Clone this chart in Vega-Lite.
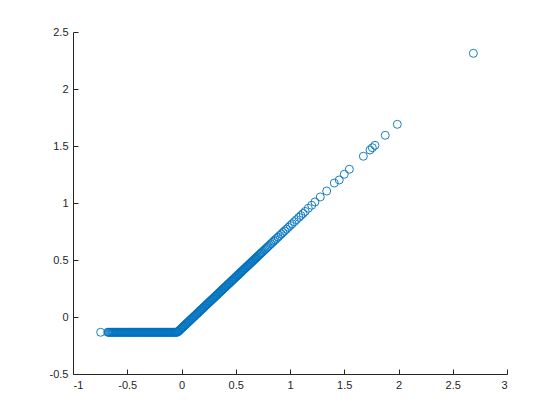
{
  "$schema": "https://vega.github.io/schema/vega-lite/v6.json",
  "width": 434,
  "height": 342,
  "autosize": {"type": "none"},
  "padding": {"left": 73, "top": 32, "right": 53, "bottom": 46},
  "background": "white",
  "config": {
    "view": {"stroke": null},
    "font": "Liberation Sans",
    "axis": {
      "grid": false,
      "domainColor": "#262626",
      "domainWidth": 1,
      "tickColor": "#262626",
      "tickSize": -5,
      "tickWidth": 1,
      "labelColor": "#262626",
      "labelFontSize": 11,
      "labelFont": "Liberation Sans",
      "title": null
    }
  },
  "data": {
    "values": [
      {"x": -0.745, "y": -0.134}, {"x": -0.68, "y": -0.134}, {"x": -0.672, "y": -0.134}, {"x": -0.665, "y": -0.134},
      {"x": -0.657, "y": -0.134}, {"x": -0.648, "y": -0.134}, {"x": -0.64, "y": -0.134}, {"x": -0.634, "y": -0.134},
      {"x": -0.628, "y": -0.134}, {"x": -0.62, "y": -0.134}, {"x": -0.612, "y": -0.134}, {"x": -0.604, "y": -0.134},
      {"x": -0.597, "y": -0.134}, {"x": -0.59, "y": -0.134}, {"x": -0.582, "y": -0.134}, {"x": -0.573, "y": -0.134},
      {"x": -0.566, "y": -0.134}, {"x": -0.558, "y": -0.134}, {"x": -0.55, "y": -0.134}, {"x": -0.542, "y": -0.134},
      {"x": -0.535, "y": -0.134}, {"x": -0.527, "y": -0.134}, {"x": -0.52, "y": -0.134}, {"x": -0.512, "y": -0.134},
      {"x": -0.505, "y": -0.134}, {"x": -0.497, "y": -0.134}, {"x": -0.49, "y": -0.134}, {"x": -0.482, "y": -0.134},
      {"x": -0.475, "y": -0.134}, {"x": -0.467, "y": -0.134}, {"x": -0.46, "y": -0.134}, {"x": -0.452, "y": -0.134},
      {"x": -0.445, "y": -0.134}, {"x": -0.437, "y": -0.134}, {"x": -0.43, "y": -0.134}, {"x": -0.422, "y": -0.134},
      {"x": -0.415, "y": -0.134}, {"x": -0.407, "y": -0.134}, {"x": -0.4, "y": -0.134}, {"x": -0.392, "y": -0.134},
      {"x": -0.385, "y": -0.134}, {"x": -0.377, "y": -0.134}, {"x": -0.37, "y": -0.134}, {"x": -0.362, "y": -0.134},
      {"x": -0.355, "y": -0.134}, {"x": -0.347, "y": -0.134}, {"x": -0.34, "y": -0.134}, {"x": -0.332, "y": -0.134},
      {"x": -0.325, "y": -0.134}, {"x": -0.317, "y": -0.134}, {"x": -0.31, "y": -0.134}, {"x": -0.302, "y": -0.134},
      {"x": -0.295, "y": -0.134}, {"x": -0.287, "y": -0.134}, {"x": -0.28, "y": -0.134}, {"x": -0.272, "y": -0.134},
      {"x": -0.265, "y": -0.134}, {"x": -0.257, "y": -0.134}, {"x": -0.25, "y": -0.134}, {"x": -0.242, "y": -0.134},
      {"x": -0.235, "y": -0.134}, {"x": -0.227, "y": -0.134}, {"x": -0.22, "y": -0.134}, {"x": -0.212, "y": -0.134},
      {"x": -0.205, "y": -0.134}, {"x": -0.197, "y": -0.134}, {"x": -0.19, "y": -0.134}, {"x": -0.182, "y": -0.134},
      {"x": -0.175, "y": -0.134}, {"x": -0.167, "y": -0.134}, {"x": -0.16, "y": -0.134}, {"x": -0.152, "y": -0.134},
      {"x": -0.145, "y": -0.134}, {"x": -0.137, "y": -0.134}, {"x": -0.13, "y": -0.134}, {"x": -0.122, "y": -0.134},
      {"x": -0.115, "y": -0.134}, {"x": -0.107, "y": -0.134}, {"x": -0.1, "y": -0.134}, {"x": -0.092, "y": -0.134},
      {"x": -0.085, "y": -0.134}, {"x": -0.077, "y": -0.134}, {"x": -0.07, "y": -0.134}, {"x": -0.062, "y": -0.134},
      {"x": -0.055, "y": -0.134}, {"x": -0.047, "y": -0.134}, {"x": -0.042, "y": -0.134},
      {"x": -0.035, "y": -0.1315}, {"x": -0.028, "y": -0.1252}, {"x": -0.021, "y": -0.1189}, {"x": -0.014, "y": -0.1126},
      {"x": -0.007, "y": -0.1063}, {"x": 0.0, "y": -0.1}, {"x": 0.007, "y": -0.0937}, {"x": 0.014, "y": -0.0874},
      {"x": 0.021, "y": -0.0811}, {"x": 0.028, "y": -0.0748}, {"x": 0.035, "y": -0.0685}, {"x": 0.042, "y": -0.0622},
      {"x": 0.049, "y": -0.0559}, {"x": 0.056, "y": -0.0496}, {"x": 0.063, "y": -0.0433}, {"x": 0.07, "y": -0.037},
      {"x": 0.077, "y": -0.0307}, {"x": 0.084, "y": -0.0244}, {"x": 0.091, "y": -0.0181}, {"x": 0.098, "y": -0.0118},
      {"x": 0.105, "y": -0.0055}, {"x": 0.112, "y": 0.0008}, {"x": 0.119, "y": 0.0071}, {"x": 0.126, "y": 0.0134},
      {"x": 0.133, "y": 0.0197}, {"x": 0.14, "y": 0.026}, {"x": 0.147, "y": 0.0323}, {"x": 0.154, "y": 0.0386},
      {"x": 0.161, "y": 0.0449}, {"x": 0.168, "y": 0.0512}, {"x": 0.175, "y": 0.0575}, {"x": 0.182, "y": 0.0638},
      {"x": 0.189, "y": 0.0701}, {"x": 0.196, "y": 0.0764}, {"x": 0.203, "y": 0.0827}, {"x": 0.21, "y": 0.089},
      {"x": 0.217, "y": 0.0953}, {"x": 0.224, "y": 0.1016}, {"x": 0.231, "y": 0.1079}, {"x": 0.238, "y": 0.1142},
      {"x": 0.245, "y": 0.1205}, {"x": 0.252, "y": 0.1268}, {"x": 0.259, "y": 0.1331}, {"x": 0.266, "y": 0.1394},
      {"x": 0.273, "y": 0.1457}, {"x": 0.28, "y": 0.152}, {"x": 0.287, "y": 0.1583}, {"x": 0.294, "y": 0.1646},
      {"x": 0.301, "y": 0.1709}, {"x": 0.308, "y": 0.1772}, {"x": 0.315, "y": 0.1835}, {"x": 0.322, "y": 0.1898},
      {"x": 0.329, "y": 0.1961}, {"x": 0.336, "y": 0.2024}, {"x": 0.343, "y": 0.2087}, {"x": 0.35, "y": 0.215},
      {"x": 0.357, "y": 0.2213}, {"x": 0.364, "y": 0.2276}, {"x": 0.371, "y": 0.2339}, {"x": 0.378, "y": 0.2402},
      {"x": 0.385, "y": 0.2465}, {"x": 0.392, "y": 0.2528}, {"x": 0.399, "y": 0.2591}, {"x": 0.406, "y": 0.2654},
      {"x": 0.413, "y": 0.2717}, {"x": 0.42, "y": 0.278}, {"x": 0.427, "y": 0.2843}, {"x": 0.434, "y": 0.2906},
      {"x": 0.441, "y": 0.2969}, {"x": 0.448, "y": 0.3032}, {"x": 0.455, "y": 0.3095}, {"x": 0.462, "y": 0.3158},
      {"x": 0.469, "y": 0.3221}, {"x": 0.476, "y": 0.3284}, {"x": 0.483, "y": 0.3347}, {"x": 0.49, "y": 0.341},
      {"x": 0.497, "y": 0.3473}, {"x": 0.504, "y": 0.3536}, {"x": 0.511, "y": 0.3599}, {"x": 0.518, "y": 0.3662},
      {"x": 0.525, "y": 0.3725}, {"x": 0.532, "y": 0.3788}, {"x": 0.539, "y": 0.3851}, {"x": 0.546, "y": 0.3914},
      {"x": 0.553, "y": 0.3977}, {"x": 0.56, "y": 0.404}, {"x": 0.567, "y": 0.4103}, {"x": 0.574, "y": 0.4166},
      {"x": 0.581, "y": 0.4229}, {"x": 0.588, "y": 0.4292}, {"x": 0.595, "y": 0.4355}, {"x": 0.602, "y": 0.4418},
      {"x": 0.609, "y": 0.4481}, {"x": 0.616, "y": 0.4544}, {"x": 0.623, "y": 0.4607}, {"x": 0.63, "y": 0.467},
      {"x": 0.637, "y": 0.4733}, {"x": 0.644, "y": 0.4796}, {"x": 0.651, "y": 0.4859}, {"x": 0.658, "y": 0.4922},
      {"x": 0.665, "y": 0.4985}, {"x": 0.672, "y": 0.5048}, {"x": 0.679, "y": 0.5111}, {"x": 0.686, "y": 0.5174},
      {"x": 0.693, "y": 0.5237}, {"x": 0.7, "y": 0.53}, {"x": 0.708, "y": 0.5372}, {"x": 0.716, "y": 0.5444},
      {"x": 0.724, "y": 0.5516}, {"x": 0.732, "y": 0.5588}, {"x": 0.74, "y": 0.566}, {"x": 0.75, "y": 0.575},
      {"x": 0.76, "y": 0.584}, {"x": 0.77, "y": 0.593}, {"x": 0.78, "y": 0.602}, {"x": 0.79, "y": 0.611},
      {"x": 0.8, "y": 0.62}, {"x": 0.812, "y": 0.6308}, {"x": 0.825, "y": 0.6425}, {"x": 0.838, "y": 0.6542},
      {"x": 0.85, "y": 0.665}, {"x": 0.863, "y": 0.6767}, {"x": 0.876, "y": 0.6884}, {"x": 0.89, "y": 0.701},
      {"x": 0.905, "y": 0.7145}, {"x": 0.92, "y": 0.728}, {"x": 0.935, "y": 0.7415}, {"x": 0.95, "y": 0.755},
      {"x": 0.967, "y": 0.7703}, {"x": 0.985, "y": 0.7865}, {"x": 1.003, "y": 0.8027}, {"x": 1.02, "y": 0.818},
      {"x": 1.04, "y": 0.836}, {"x": 1.06, "y": 0.854}, {"x": 1.082, "y": 0.8738}, {"x": 1.1, "y": 0.89},
      {"x": 1.12, "y": 0.908}, {"x": 1.14, "y": 0.926},
      {"x": 1.169, "y": 0.954}, {"x": 1.2, "y": 0.98}, {"x": 1.23, "y": 1.009}, {"x": 1.279, "y": 1.053},
      {"x": 1.338, "y": 1.105}, {"x": 1.408, "y": 1.175}, {"x": 1.454, "y": 1.202}, {"x": 1.5, "y": 1.252},
      {"x": 1.547, "y": 1.296}, {"x": 1.676, "y": 1.41}, {"x": 1.737, "y": 1.465}, {"x": 1.759, "y": 1.485},
      {"x": 1.783, "y": 1.506}, {"x": 1.878, "y": 1.594}, {"x": 1.989, "y": 1.69}, {"x": 2.69, "y": 2.313}
    ]
  },
  "mark": {"type": "point", "shape": "circle", "filled": false, "stroke": "#0072BD", "strokeWidth": 0.9, "size": 64, "opacity": 1},
  "encoding": {
    "x": {
      "field": "x", "type": "quantitative",
      "scale": {"domain": [-1, 3], "nice": false, "zero": false},
      "axis": {"values": [-1, -0.5, 0, 0.5, 1, 1.5, 2, 2.5, 3], "format": "~g", "labelPadding": 10, "labelExpr": "replace(datum.label, '−', '-')"}
    },
    "y": {
      "field": "y", "type": "quantitative",
      "scale": {"domain": [-0.5, 2.5], "nice": false, "zero": false},
      "axis": {"values": [-0.5, 0, 0.5, 1, 1.5, 2, 2.5], "format": "~g", "labelPadding": 10, "labelExpr": "replace(datum.label, '−', '-')"}
    }
  }
}
